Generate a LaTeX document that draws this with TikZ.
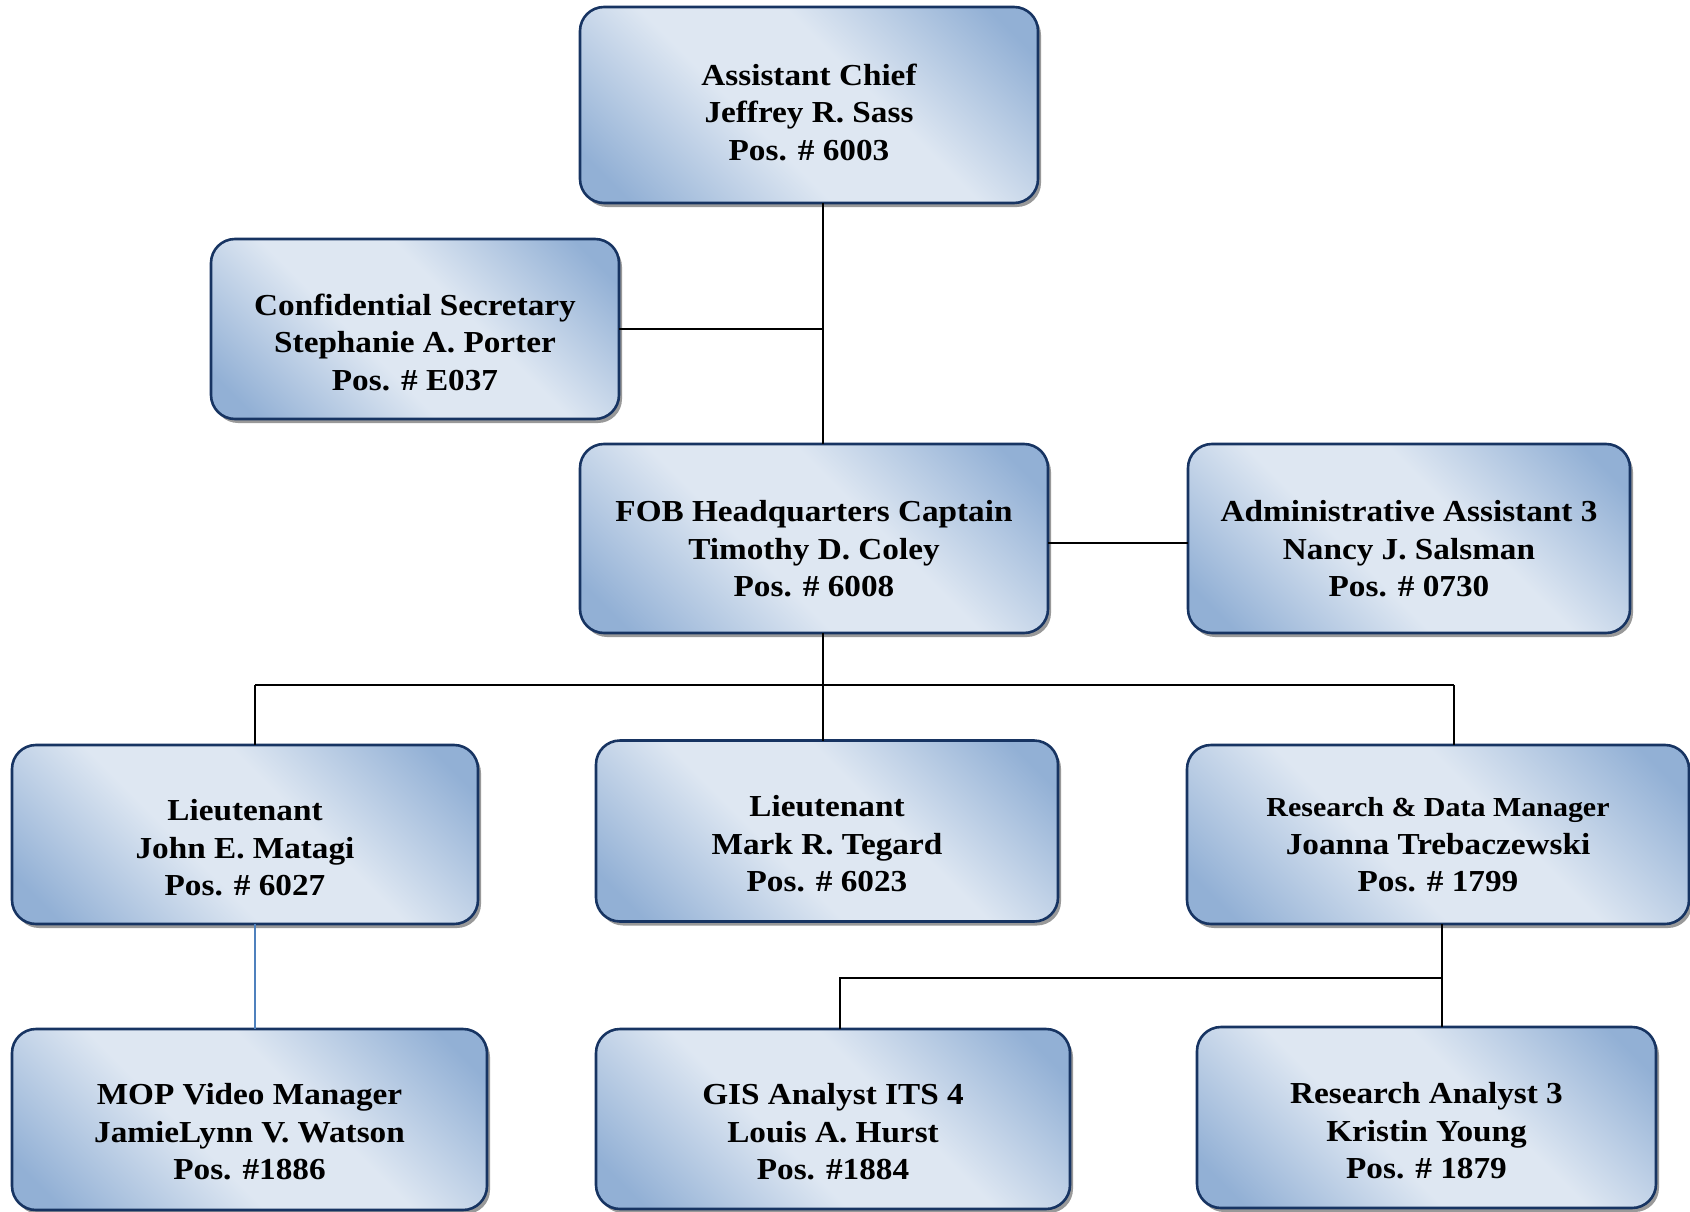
\documentclass[tikz,border=0pt]{standalone}
\usepackage{fontspec}
\usetikzlibrary{shadows}
\newfontfamily\orgfont{Liberation Serif}[FakeStretch=1.09]

\definecolor{orgdk}{RGB}{146,176,213}
\definecolor{orglt}{RGB}{222,231,242}
\definecolor{orgline}{RGB}{23,52,98}
\definecolor{orgblue}{RGB}{79,129,189}

% diagonal band: darker toward two opposite corners, light through the middle
\pgfdeclareverticalshading{orgfill}{100bp}{color(0bp)=(orgdk); color(20bp)=(orgdk); color(42bp)=(orglt); color(58bp)=(orglt); color(80bp)=(orgdk); color(100bp)=(orgdk)}

\tikzset{
  orgbox/.style={draw=orgline, line width=2.6pt, rounded corners=24pt,
    shade, shading=orgfill, shading angle=-45, inner sep=0pt, outer sep=0pt,
    drop shadow={shadow xshift=3pt, shadow yshift=-4pt, fill=black, opacity=0.4}},
  orgtext/.style={font=\orgfont\bfseries\fontsize{30.5}{37.5}\selectfont, align=center,
    inner sep=0pt, text=black},
  conn/.style={draw=black, line width=2pt},
  bluecon/.style={draw=orgblue, line width=1.6pt},
}

% name, centre x, centre y, width, height, text centre y, text
\newcommand\orgunit[7]{%
  \node[orgbox, minimum width=#4pt, minimum height=#5pt] (#1) at (#2,#3) {};
  \node[orgtext] (#1-t) at (#2,#6) {#7};}

\begin{document}
\begin{tikzpicture}[x=1pt, y=-1pt]
\useasboundingbox (0,0) rectangle (1690,1212);

\orgunit{chief}{809}{105}{458}{196}{112}{Assistant Chief\\Jeffrey R. Sass\\Pos. \# 6003}
\orgunit{sec}{415}{329}{408}{180}{342}{Confidential Secretary\\Stephanie A. Porter\\Pos. \# E037}
\orgunit{fob}{814}{538.5}{468}{189}{549}{FOB Headquarters Captain\\Timothy D. Coley\\Pos. \# 6008}
\orgunit{admin}{1409}{538.5}{442}{189}{549}{Administrative Assistant 3\\Nancy J. Salsman\\Pos. \# 0730}
\orgunit{ltm}{245}{834.5}{466}{179}{848}{Lieutenant\\John E. Matagi\\Pos. \# 6027}
\orgunit{ltt}{827}{831}{462}{181}{844}{Lieutenant\\Mark R. Tegard\\Pos. \# 6023}
\orgunit{rdm}{1438}{834.5}{502}{179}{845}{{\fontsize{27.5}{37.5}\selectfont Research \& Data Manager}\\Joanna Trebaczewski\\Pos. \# 1799}
\orgunit{mop}{249.5}{1119.5}{475}{181}{1132}{MOP Video Manager\\JamieLynn V. Watson\\Pos. \#1886}
\orgunit{gis}{833}{1119}{474}{180}{1132}{GIS Analyst ITS 4\\Louis A. Hurst\\Pos. \#1884}
\orgunit{ra}{1426.5}{1117.5}{459}{181}{1131}{Research Analyst 3\\Kristin Young\\Pos. \# 1879}

% reporting lines
\coordinate (tx) at (823,0);
\coordinate (hy) at (0,543);
\coordinate (xa) at (255,685);
\coordinate (xb) at (1454,685);
\coordinate (xc) at (1442,978);
\coordinate (xd) at (840,978);

\draw[conn] (chief.south -| tx) -- (fob.north -| tx);
\draw[conn] (sec.east) -- (sec.east -| tx);
\draw[conn] (fob.east |- hy) -- (admin.west |- hy);
\draw[conn] (fob.south -| tx) -- (ltt.north -| tx);
\draw[conn] (xa) -- (xb);
\draw[conn] (xa) -- (ltm.north -| xa);
\draw[conn] (xb) -- (rdm.north -| xb);
\draw[bluecon] (ltm.south -| xa) -- (mop.north -| xa);
\draw[conn] (rdm.south -| xc) -- (ra.north -| xc);
\draw[conn] (xc) -- (xd) -- (gis.north -| xd);
\end{tikzpicture}
\end{document}
